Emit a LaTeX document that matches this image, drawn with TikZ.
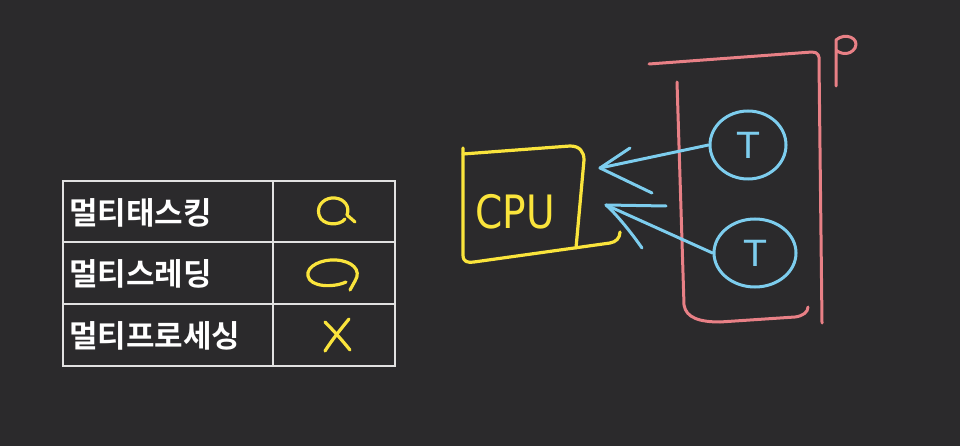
\documentclass[tikz,border=0pt]{standalone}
\usepackage{fontspec}
\newfontfamily\kr{Noto Sans CJK KR}[BoldFont={Noto Sans CJK KR Bold}]
\newfontfamily\hand{DejaVu Sans}
\definecolor{bg}{RGB}{43,42,44}
\definecolor{tline}{RGB}{225,225,225}
\definecolor{yel}{RGB}{250,228,60}
\definecolor{pinkc}{RGB}{232,128,134}
\definecolor{bluec}{RGB}{125,205,238}
\begin{document}
\begin{tikzpicture}[x=1pt,y=-1pt,
  grid/.style={draw=tline,line width=2.2pt},
  rowtxt/.style={anchor=west,text=white,font=\kr\bfseries\fontsize{31}{33}\selectfont,inner sep=0pt},
  ystroke/.style={draw=yel,line width=3.2pt,line cap=round,line join=round},
  pstroke/.style={draw=pinkc,line width=3pt,line cap=round,line join=round},
  bstroke/.style={draw=bluec,line width=3pt,line cap=round,line join=round},
  thread/.style={ellipse,draw=bluec,line width=3pt,minimum width=76pt,minimum height=68pt,inner sep=0pt,text=bluec,font=\hand\fontsize{36}{36}\selectfont}]
\usetikzlibrary{shapes.geometric}
\fill[bg] (0,0) rectangle (960,446);
\useasboundingbox (0,0) rectangle (960,446);
% table
\draw[grid] (63,181) rectangle (395,366);
\draw[grid] (273,181) -- (273,366);
\draw[grid] (63,242) -- (395,242);
\draw[grid] (63,304) -- (395,304);
\node[rowtxt] (r1) at (69,213) {멀티태스킹};
\node[rowtxt] (r2) at (69,274) {멀티스레딩};
\node[rowtxt] (r3) at (69,336) {멀티프로세싱};
% marks
\draw[ystroke] (345,219) .. controls (340,226) and (322,226) .. (319,215)
  .. controls (316,204) and (326,197) .. (335,198)
  .. controls (345,199) and (350,207) .. (347,215) -- (355,222);
\draw[ystroke] (346,282) .. controls (333,288) and (310,287) .. (308,276)
  .. controls (306,266) and (322,259) .. (336,260)
  .. controls (352,261) and (362,270) .. (355,281) -- (350,290);
\draw[ystroke] (325,322) .. controls (333,330) and (342,340) .. (350,350);
\draw[ystroke] (349,319) .. controls (340,330) and (332,340) .. (325,351);
% CPU box
\draw[ystroke] (463,148) -- (463,255) .. controls (463,262) and (468,263) .. (474,262)
  -- (610,243) .. controls (616,242) and (620,238) .. (620,232);
\draw[ystroke] (463,154) -- (570,146) .. controls (580,146) and (584,152) .. (584,160) -- (576,248);
\node[text=yel,font=\hand\fontsize{46}{46}\selectfont,inner sep=0pt,xscale=0.85] (cpu) at (515,212) {CPU};
% process box
\draw[pstroke] (649,64) -- (812,52) .. controls (818,52) and (820,56) .. (819,62) -- (822,323);
\draw[pstroke] (677,82) -- (684,305) .. controls (686,318) and (700,322) .. (720,322) -- (795,317)
  .. controls (803,316) and (808,312) .. (808,307);
\draw[pstroke] (836,86) -- (836,40) .. controls (845,32) and (860,38) .. (855,48) .. controls (850,56) and (840,54) .. (836,50);
% threads
\node[thread] (t1) at (748,145) {T};
\node[thread,minimum width=82pt] (t2) at (755,253) {T};
% arrows
\coordinate (tip1) at (600,168);
\coordinate (tip2) at (606,205);
\coordinate (h1a) at (630,148);
\coordinate (h1b) at (652,193);
\coordinate (h2a) at (666,206);
\coordinate (h2b) at (642,248);
\draw[bstroke] (t1.west) -- (tip1);
\draw[bstroke] (h1a) -- (tip1) -- (h1b);
\draw[bstroke] (t2.west) -- (tip2);
\draw[bstroke] (h2b) .. controls (628,228) and (614,212) .. (tip2) -- (h2a);
\end{tikzpicture}
\end{document}
